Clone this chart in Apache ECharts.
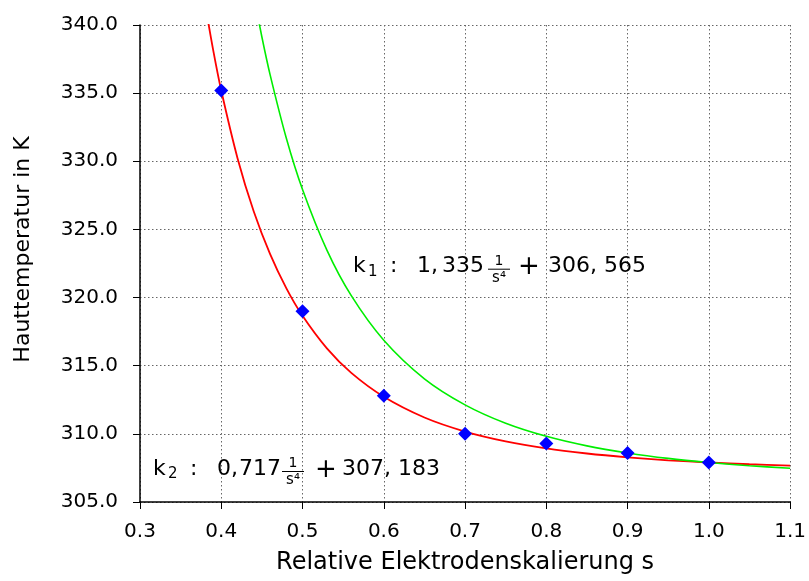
<!DOCTYPE html>
<html>
<head>
<meta charset="utf-8">
<script src="https://cdn.jsdelivr.net/npm/echarts@6/dist/echarts.min.js"></script>
<style>html,body{margin:0;padding:0;background:#fff}#c{width:809px;height:581px}</style>
</head>
<body>
<div id="c"></div>
<script>
// Measured points
const measS = [0.4, 0.5, 0.6, 0.7, 0.8, 0.9, 1.0];
const measT = [335.2, 319.0, 312.8, 310.0, 309.3, 308.6, 307.9];

// Fit curve k2 (red)
const k2S = [0.38, 0.39, 0.40, 0.42, 0.44, 0.46, 0.48, 0.50, 0.53, 0.56, 0.60, 0.65, 0.70, 0.75, 0.80, 0.85, 0.90, 0.95, 1.00, 1.05, 1.10];
const k2T = [341.57, 338.18, 335.19, 330.23, 326.31, 323.20, 320.69, 318.66, 316.27, 314.47, 312.72, 311.20, 310.17, 309.45, 308.93, 308.56, 308.28, 308.06, 307.90, 307.77, 307.67];

// Fit curve k1 (green)
const k1S = [0.44, 0.45, 0.46, 0.48, 0.50, 0.53, 0.56, 0.60, 0.65, 0.70, 0.75, 0.80, 0.85, 0.90, 0.95, 1.00, 1.05, 1.10];
const k1T = [342.18, 339.12, 336.38, 331.71, 327.93, 323.48, 320.14, 316.87, 314.04, 312.13, 310.78, 309.82, 309.12, 308.60, 308.20, 307.90, 307.66, 307.48];

const xTitle = 'Relative Elektrodenskalierung s';
const yTitle = 'Hauttemperatur in K';

const FONT = '"DejaVu Sans", sans-serif';

function zip(a, b) { return a.map((v, i) => [v, b[i]]); }

function txt(x, y, text, size, align) {
  return {
    type: 'text', x: x, y: y, z: 100,
    style: {
      text: text, fill: '#000', fontSize: size, fontFamily: FONT,
      align: align || 'left', verticalAlign: 'middle',
      textAlign: align || 'left', textVerticalAlign: 'middle'
    }
  };
}
function fracLine(x1, x2, y) {
  return { type: 'line', z: 100, shape: { x1: x1, y1: y, x2: x2, y2: y }, style: { stroke: '#000', lineWidth: 1 } };
}
function annotation(dc, p) {
  return [
    txt(p.k, dc, 'k', 22),
    txt(p.sub, dc + 5, p.subText, 15),
    txt(p.colon, dc, ':', 22),
    txt(p.a, dc, p.aText, 22),
    txt(p.b, dc, p.bText, 22),
    txt(p.fc, dc - 5.5, '1', 14, 'center'),
    fracLine(p.fc - 11, p.fc + 11, dc + 2.5),
    txt(p.fc, dc + 11, 's\u2074', 15, 'center'),
    txt(p.plus, dc + 1, '+', 26, 'center'),
    txt(p.c, dc, p.cText, 22)
  ];
}

const chart = echarts.init(document.getElementById('c'), null, { renderer: 'canvas' });

const axisCommon = {
  axisLine: { show: true, onZero: false, lineStyle: { color: '#000', width: 1.5 } },
  axisTick: { show: true, inside: false, length: 7, lineStyle: { color: '#000', width: 1 } },
  splitLine: { show: true, lineStyle: { color: '#666', type: [1.5, 2.5], width: 1 } },
  axisLabel: { color: '#000', fontSize: 20, fontFamily: FONT, formatter: v => v.toFixed(1) },
  nameTextStyle: { color: '#000', fontSize: 22, fontFamily: FONT }
};

chart.setOption({
  animation: false,
  backgroundColor: '#fff',
  grid: { left: 140, right: 17, top: 25, bottom: 79, containLabel: false },
  xAxis: Object.assign({}, axisCommon, {
    type: 'value', min: 0.3, max: 1.1, interval: 0.1,
    name: xTitle, nameLocation: 'middle', nameGap: 49,
    nameTextStyle: Object.assign({}, axisCommon.nameTextStyle, { fontSize: 24 }),
    axisLabel: Object.assign({}, axisCommon.axisLabel, { margin: 20, showMaxLabel: true, showMinLabel: true })
  }),
  yAxis: Object.assign({}, axisCommon, {
    type: 'value', min: 305, max: 340, interval: 5,
    name: yTitle, nameLocation: 'middle', nameGap: 106,
    nameTextStyle: Object.assign({}, axisCommon.nameTextStyle, { padding: [0, 0, 0, 28] }),
    axisLabel: Object.assign({}, axisCommon.axisLabel, { margin: 22 })
  }),
  series: [
    { name: 'k2', type: 'line', data: zip(k2S, k2T), showSymbol: false, symbol: 'none', smooth: 0.3, clip: true,
      lineStyle: { color: '#ff0000', width: 1.8 }, z: 2 },
    { name: 'k1', type: 'line', data: zip(k1S, k1T), showSymbol: false, symbol: 'none', smooth: 0.3, clip: true,
      lineStyle: { color: '#00ee00', width: 1.6 }, z: 3 },
    { name: 'Messwerte', type: 'scatter', data: zip(measS, measT), symbol: 'diamond', symbolSize: 14,
      itemStyle: { color: '#0000ff', opacity: 1 }, z: 5 }
  ],
  graphic: annotation(266.7, { k: 353, sub: 368, subText: '1', colon: 390, a: 417, aText: '1,', b: 442, bText: '335', fc: 499, plus: 529, c: 548, cText: '306, 565' })
    .concat(annotation(469, { k: 153, sub: 168, subText: '2', colon: 190, a: 217, aText: '0,', b: 239, bText: '717', fc: 293, plus: 326, c: 342, cText: '307, 183' }))
});
</script>
</body>
</html>
